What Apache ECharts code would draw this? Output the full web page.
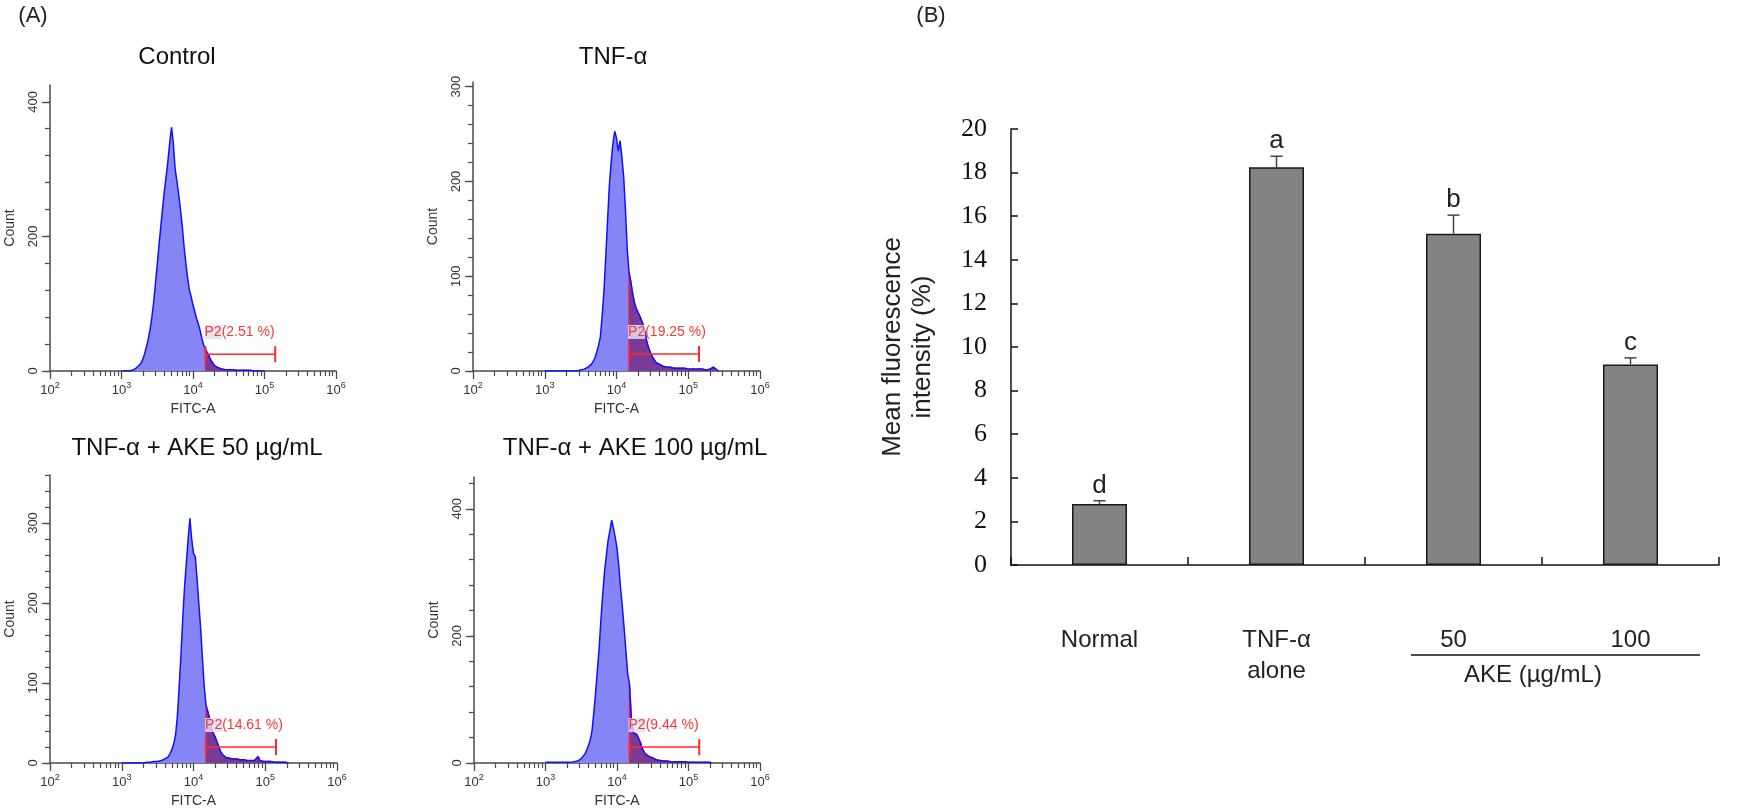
<!DOCTYPE html>
<html><head><meta charset="utf-8">
<script src="https://cdn.jsdelivr.net/npm/echarts@6/dist/echarts.min.js"></script>
<style>html,body{margin:0;padding:0;background:#fff}#c{width:1747px;height:811px}</style>
</head><body><div id="c"></div><script>
// ---------- DATA ----------
// Histogram bins: x = log10(FITC-A) starting at HIST_START, step HIST_STEP
const HIST_START = 3.0, HIST_STEP = 0.025;
const countControl = [0,0,0,0,0, 1,1,2,4,6, 9,12,18,26,36, 48,62,80,102,130, 158,188,215,242,268,
  290,313,340,362,338, 300,282,262,240,215, 185,160,138,120,110, 98,88,78,70,60, 48,38,32,27,22,
  16,12,8,6,5, 4,3,3,2,2, 2,1,2,1,1, 1,1,1,1,1, 1,1,1,1,0, 1,0,1,0,0,0];
const countTNF = [0,0,0,0,0,0,0,0,0,0, 0,0,0,0,0,0,0,0,0, 1,1,2,2,3,4,5,7,10,14,20, 27,36,58,84,120,158,195,220,240,253,
  246,232,243,226,205,170,128,104,94,82, 72,66,62,58,53,48,40,30,24,19, 15,12,9,8,7,6,5,5,4,4,
  4,3,3,3,3,3,3,2,3,2, 2,3,2,2,2,2,2,1,2,1, 1,2,2,3,4,4,1,0];
const countAKE50 = [0,0,0,0,0,0,0,0,0,0,0,0,0, 1,1,1,1,2,2,2,2,3,3,4,5,6,8,12,17,24, 35,58,95,135,180,220,250,280,306,280,
  262,258,230,198,168,130,95,72,64,55, 43,37,33,27,21,15,11,9,7,7, 6,6,5,5,5,4,4,4,4,4,
  3,3,3,3,3,5,8,3,2,2, 2,2,1,2,1,1,1,1,1,1, 1,1,1,0];
const countAKE100 = [1,1,1,1,1,1,1,1,1,1,1,1,1,1,1, 2,2,2,3,5,7,10,14,20,27,36,50,78,110,145,
  180,225,265,300,325,350,365,382,370,355, 338,310,275,245,212,175,140,124,72,48,
  46,45,42,33,24,18,14,11,10,9, 8,6,5,5,4,4,3,3,3,3, 2,2,2,2,2,2,2,2,2,2, 1,1,1,1,1,1,1,1,1,1, 1,1,1,0];
const histCounts = [countControl, countTNF, countAKE50, countAKE100];
const panelTitles = ['Control', 'TNF-α', 'TNF-α + AKE 50 µg/mL', 'TNF-α + AKE 100 µg/mL'];
const gatePercent = ['2.51', '19.25', '14.61', '9.44'];
const gateRange = [4.175, 5.15];
const gateLevel = [25, 18, 20, 25];
const countMax = [425, 305, 360, 450];
const countTicks = [[0, 200, 400], [0, 100, 200, 300], [0, 100, 200, 300], [0, 200, 400]];
const countMinorStep = [40, 20, 20, 40];
const decadeTicks = [2, 3, 4, 5, 6];
const histXName = 'FITC-A', histYName = 'Count';

const barCategories = ['Normal', 'TNF-α\nalone', '50', '100'];
const barMeans = [2.8, 18.25, 15.2, 9.2];
const barErrors = [0.15, 0.5, 0.85, 0.3];
const barLetters = ['d', 'a', 'b', 'c'];
const barYName = 'Mean fluorescence\nintensity (%)';
const groupLabel = 'AKE (µg/mL)';

// ---------- LAYOUT ----------
const SANS = 'Liberation Sans, Arial, sans-serif';
const SERIF = 'Liberation Serif, Times New Roman, serif';
const panelGrids = [
  {left: 50, top: 85, width: 286, height: 286},
  {left: 473, top: 82, width: 287, height: 289},
  {left: 50, top: 475, width: 287, height: 288},
  {left: 474, top: 477, width: 286, height: 286}
];
const titlePos = [[177, 57], [613, 57], [197, 448], [635, 448]];
const axisCol = '#4a4a4a';

const grids = [], xAxes = [], yAxes = [], series = [];
const minorX = [];
for (let d = 2; d < 6; d++) for (let k = 2; k <= 9; k++) minorX.push(d + Math.log10(k));

histCounts.forEach((counts, p) => {
  grids.push(Object.assign({containLabel: false}, panelGrids[p]));
  const minorY = [];
  for (let v = 0; v <= countMax[p]; v += countMinorStep[p]) minorY.push(v);
  xAxes.push({
    gridIndex: p, type: 'value', min: 2, max: 6, position: 'bottom',
    axisLine: {show: true, lineStyle: {color: axisCol, width: 1.5}},
    axisTick: {show: true, length: 8, customValues: decadeTicks, lineStyle: {color: axisCol, width: 1.3}},
    axisLabel: {
      customValues: decadeTicks, margin: 12,
      formatter: v => '{b|10}{s|' + v + '}',
      rich: {
        b: {fontSize: 13, lineHeight: 14, verticalAlign: 'bottom', color: '#333', fontFamily: SANS},
        s: {fontSize: 9, lineHeight: 10, padding: [0, 0, 7, 0], verticalAlign: 'bottom', color: '#333', fontFamily: SANS}
      }
    },
    splitLine: {show: false},
    name: histXName, nameLocation: 'middle', nameGap: 31, nameMoveOverlap: false,
    nameTextStyle: {fontSize: 14, color: '#333', fontFamily: SANS}
  });
  xAxes.push({
    gridIndex: p, type: 'value', min: 2, max: 6, position: 'bottom',
    axisLine: {show: false},
    axisTick: {show: true, length: 5, customValues: minorX, lineStyle: {color: axisCol, width: 1.2}},
    axisLabel: {show: false}, splitLine: {show: false}
  });
  yAxes.push({
    gridIndex: p, type: 'value', min: 0, max: countMax[p], position: 'left',
    axisLine: {show: true, lineStyle: {color: axisCol, width: 1.5}},
    axisTick: {show: true, length: 8, customValues: countTicks[p], lineStyle: {color: axisCol, width: 1.3}},
    axisLabel: {customValues: countTicks[p], rotate: 90, fontSize: 13, color: '#333', margin: 10, fontFamily: SANS},
    splitLine: {show: false},
    name: histYName, nameLocation: 'middle', nameRotate: 90, nameGap: 33, nameMoveOverlap: false,
    nameTextStyle: {fontSize: 14, color: '#333', fontFamily: SANS}
  });
  yAxes.push({
    gridIndex: p, type: 'value', min: 0, max: countMax[p], position: 'left',
    axisLine: {show: false},
    axisTick: {show: true, length: 5, customValues: minorY, lineStyle: {color: axisCol, width: 1.2}},
    axisLabel: {show: false}, splitLine: {show: false}
  });
  const pts = counts.map((c, i) => [HIST_START + i * HIST_STEP, c]);
  // gated part
  const g = gateRange[0];
  const gi = Math.floor((g - HIST_START) / HIST_STEP + 1e-9);
  const t = (g - pts[gi][0]) / HIST_STEP;
  const gy = pts[gi][1] + t * (pts[gi + 1][1] - pts[gi][1]);
  const gated = [[g, 0], [g, gy]].concat(pts.filter(q => q[0] > g + 1e-9));
  const xi = 2 * p, yi = 2 * p;
  series.push({type: 'line', xAxisIndex: xi, yAxisIndex: yi, data: pts, symbol: 'none', silent: true, z: 2,
    lineStyle: {width: 0}, areaStyle: {color: '#8585f6', opacity: 1}});
  series.push({type: 'line', xAxisIndex: xi, yAxisIndex: yi, data: gated, symbol: 'none', silent: true, z: 3,
    lineStyle: {width: 1.3, color: '#e02040'}, areaStyle: {color: '#7a3a98', opacity: 1}});
  series.push({type: 'line', xAxisIndex: xi, yAxisIndex: yi, data: pts, symbol: 'none', silent: true, z: 4,
    lineStyle: {width: 1.5, color: '#1010ff'}});
  series.push({type: 'line', xAxisIndex: xi, yAxisIndex: yi, silent: true, z: 6,
    symbol: 'rect', symbolSize: [2, 16], showSymbol: true,
    itemStyle: {color: '#ff2a2a'}, lineStyle: {width: 1.5, color: '#ff2a2a'},
    data: [
      {value: [gateRange[0], gateLevel[p]], label: {
        show: true, position: 'top', align: 'left', offset: [-1, -2],
        formatter: '{p|P2}(' + gatePercent[p] + ' %)',
        fontSize: 14, color: '#ff3535', fontFamily: SANS,
        rich: {p: {fontSize: 14, color: '#ff3535', fontFamily: SANS, backgroundColor: 'rgba(225,225,240,0.85)'}}
      }},
      [gateRange[1], gateLevel[p]]
    ]});
});

// ---------- BAR CHART ----------
grids.push({left: 1011, top: 129, width: 708, height: 436, containLabel: false});
xAxes.push({
  gridIndex: 4, type: 'category', data: barCategories,
  axisLine: {show: true, lineStyle: {color: '#111', width: 1.5}},
  axisTick: {show: true, inside: true, length: 8, lineStyle: {color: '#111', width: 1.5}},
  axisLabel: {fontSize: 24, color: '#222', margin: 60, lineHeight: 31, fontFamily: SANS}
});
yAxes.push({
  gridIndex: 4, type: 'value', min: 0, max: 20, interval: 2,
  axisLine: {show: true, lineStyle: {color: '#111', width: 1.5}},
  axisTick: {show: true, inside: true, length: 7, lineStyle: {color: '#111', width: 1.5}},
  axisLabel: {fontSize: 26, color: '#111', margin: 24, fontFamily: SERIF},
  splitLine: {show: false},
  name: barYName, nameLocation: 'middle', nameRotate: 90, nameGap: 73, nameMoveOverlap: false,
  nameTextStyle: {fontSize: 26, lineHeight: 30, color: '#222', fontFamily: SANS}
});
series.push({
  type: 'bar', xAxisIndex: 8, yAxisIndex: 8, data: barMeans, barWidth: 55, silent: true,
  itemStyle: {color: '#838383', borderColor: '#1a1a1a', borderWidth: 1.5}
});
series.push({
  type: 'custom', xAxisIndex: 8, yAxisIndex: 8, silent: true, z: 5,
  data: barMeans.map((m, i) => [i, m, m + barErrors[i]]),
  renderItem: function (params, api) {
    const b = api.coord([api.value(0), api.value(1)]);
    const t = api.coord([api.value(0), api.value(2)]);
    return {type: 'group', children: [
      {type: 'line', shape: {x1: b[0], y1: b[1], x2: t[0], y2: t[1]}, style: {stroke: '#444', lineWidth: 1.5}},
      {type: 'line', shape: {x1: t[0] - 6, y1: t[1], x2: t[0] + 6, y2: t[1]}, style: {stroke: '#444', lineWidth: 1.5}},
      {type: 'text', x: t[0], y: t[1] - 2, style: {text: barLetters[params.dataIndex], fontSize: 26,
        fontFamily: SANS, fill: '#222', align: 'center', verticalAlign: 'bottom'}}
    ]};
  }
});

// ---------- ANNOTATIONS ----------
const graphic = [
  {type: 'text', x: 33, y: 16, style: {text: '(A)', fontSize: 22, fontFamily: SANS, fill: '#222', align: 'center', verticalAlign: 'middle'}},
  {type: 'text', x: 931, y: 16, style: {text: '(B)', fontSize: 22, fontFamily: SANS, fill: '#222', align: 'center', verticalAlign: 'middle'}},
  {type: 'line', shape: {x1: 1411, y1: 655, x2: 1700, y2: 655}, style: {stroke: '#111', lineWidth: 1.5}},
  {type: 'text', x: 1533, y: 675, style: {text: groupLabel, fontSize: 24, fontFamily: SANS, fill: '#222', align: 'center', verticalAlign: 'middle'}}
];
panelTitles.forEach((tt, p) => graphic.push({type: 'text', x: titlePos[p][0], y: titlePos[p][1],
  style: {text: tt, fontSize: 24, fontFamily: SANS, fill: '#111', align: 'center', verticalAlign: 'middle'}}));

const chart = echarts.init(document.getElementById('c'), null, {renderer: 'canvas'});
chart.setOption({
  animation: false, backgroundColor: '#fff',
  grid: grids, xAxis: xAxes, yAxis: yAxes, series: series, graphic: graphic
});
</script></body></html>
